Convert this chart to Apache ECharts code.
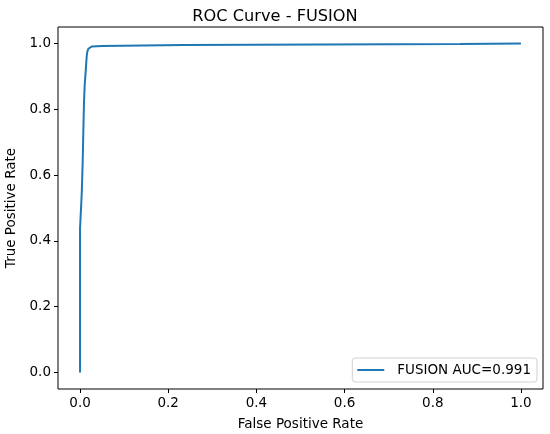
<!DOCTYPE html>
<html>
<head>
<meta charset="utf-8">
<script src="https://cdn.jsdelivr.net/npm/echarts@6/dist/echarts.min.js"></script>
<style>html,body{margin:0;padding:0;background:#fff}#c{width:550px;height:434px}</style>
</head>
<body>
<div id="c"></div>
<script>
const fpr = [0, 0, 0.004, 0.004, 0.006, 0.006, 0.0075, 0.0075, 0.009, 0.009, 0.0105, 0.0105, 0.013, 0.013, 0.015, 0.015, 0.0165, 0.019, 0.023, 0.027, 0.05, 0.053, 0.234, 0.236, 0.862, 0.864, 1.0];
const tpr = [0, 0.438, 0.44, 0.549, 0.55, 0.64, 0.642, 0.736, 0.738, 0.822, 0.824, 0.873, 0.875, 0.919, 0.921, 0.96, 0.975, 0.984, 0.989, 0.991, 0.992, 0.995, 0.995, 0.998, 0.998, 1.0, 1.0];
const xTicks = [0, 0.2, 0.4, 0.6, 0.8, 1.0];
const yTicks = [0, 0.2, 0.4, 0.6, 0.8, 1.0];
const seriesName = 'FUSION AUC=0.991';
const titleText = 'ROC Curve - FUSION';

const font = 'DejaVu Sans';
const fs = 13.5;
const chart = echarts.init(document.getElementById('c'), null, {renderer: 'canvas'});
chart.setOption({
  animation: false,
  backgroundColor: '#fff',
  title: {
    text: titleText, left: 'center', top: 4,
    textStyle: {fontFamily: font, fontSize: 16.2, fontWeight: 'normal', color: '#000'}
  },
  legend: {
    data: [{name: seriesName, icon: 'rect'}],
    right: 13, bottom: 52,
    itemWidth: 27, itemHeight: 2, itemGap: 10,
    padding: [5, 6, 5, 5],
    borderColor: '#d0d0d0', borderWidth: 1, borderRadius: 3,
    backgroundColor: 'rgba(255,255,255,0.8)',
    textStyle: {fontFamily: font, fontSize: fs, color: '#000', padding: [0, 0, 0, 8]}
  },
  grid: {left: 58, right: 7, top: 27, bottom: 45, show: true, borderColor: '#000', borderWidth: 1,
         backgroundColor: 'transparent', containLabel: false, outerBoundsMode: 'none'},
  xAxis: {
    type: 'value', min: -0.05, max: 1.05,
    name: 'False Positive Rate', nameLocation: 'middle', nameGap: 28,
    nameTextStyle: {fontFamily: font, fontSize: fs, color: '#000'},
    axisLine: {show: false, onZero: false},
    splitLine: {show: false},
    axisTick: {show: true, length: 4, lineStyle: {color: '#000'}, customValues: xTicks},
    axisLabel: {fontFamily: font, fontSize: fs, color: '#000', margin: 7, customValues: xTicks, formatter: v => v.toFixed(1)}
  },
  yAxis: {
    type: 'value', min: -0.05, max: 1.05,
    name: 'True Positive Rate', nameLocation: 'middle', nameGap: 38,
    nameTextStyle: {fontFamily: font, fontSize: fs, color: '#000'},
    axisLine: {show: false, onZero: false},
    splitLine: {show: false},
    axisTick: {show: true, length: 4, lineStyle: {color: '#000'}, customValues: yTicks},
    axisLabel: {fontFamily: font, fontSize: fs, color: '#000', margin: 7, customValues: yTicks, formatter: v => v.toFixed(1)}
  },
  series: [{
    name: seriesName, type: 'line',
    data: fpr.map((x, i) => [x, tpr[i]]),
    showSymbol: false, symbol: 'none',
    lineStyle: {color: '#1f77b4', width: 2},
    itemStyle: {color: '#1f77b4'}
  }]
});
</script>
</body>
</html>
